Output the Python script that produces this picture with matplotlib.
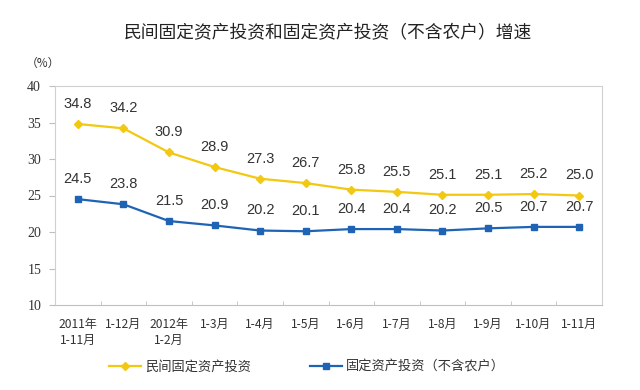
import numpy as np
import matplotlib
matplotlib.use('Agg')
import matplotlib.pyplot as plt

plt.rcParams['font.family'] = ['Noto Sans CJK SC', 'DejaVu Sans']

# data
periods = ['2011年\n1-11月', '1-12月', '2012年\n1-2月', '1-3月', '1-4月', '1-5月',
           '1-6月', '1-7月', '1-8月', '1-9月', '1-10月', '1-11月']
private_inv = [34.8, 34.2, 30.9, 28.9, 27.3, 26.7, 25.8, 25.5, 25.1, 25.1, 25.2, 25.0]
total_inv = [24.5, 23.8, 21.5, 20.9, 20.2, 20.1, 20.4, 20.4, 20.2, 20.5, 20.7, 20.7]
y_ticks = [10, 15, 20, 25, 30, 35, 40]

title = '民间固定资产投资和固定资产投资（不含农户）增速'
series_names = ['民间固定资产投资', '固定资产投资（不含农户）']
yellow = '#F2C811'
blue = '#1F64B4'

fig = plt.figure(figsize=(6.4, 3.9), dpi=100)
ax = fig.add_axes([55 / 640, 1 - 305 / 390, (602 - 55) / 640, (305 - 86) / 390])

x = np.arange(len(periods))
ax.plot(x, private_inv, color=yellow, lw=1.6, marker='D', ms=4.5,
        label=series_names[0])
ax.plot(x, total_inv, color=blue, lw=1.6, marker='s', ms=4.5,
        label=series_names[1])

# value labels above each point
for vals in [private_inv, total_inv]:
    for xi, v in zip(x, vals):
        ax.annotate(f'{v:.1f}', (xi, v), xytext=(0, 14.5), textcoords='offset points',
                    ha='center', va='center', fontsize=10.5, color='#333333',
                    family='Liberation Sans')

ax.set_xlim(-0.5, len(periods) - 0.5)
ax.set_ylim(10, 40)
ax.set_yticks(y_ticks)
ax.set_yticklabels([str(t) for t in y_ticks], family='Liberation Serif',
                   fontsize=10, color='#333333')
ax.set_xticks(x)
ax.set_xticklabels(periods, fontsize=8.7, color='#333333', linespacing=1.3)
ax.set_xticks(np.arange(len(periods) + 1) - 0.5, minor=True)

ax.tick_params(axis='y', length=4, color='#BFBFBF', pad=6)
ax.tick_params(axis='x', which='major', length=0, pad=9.5)
ax.tick_params(axis='x', which='minor', length=3, direction='in', color='#BFBFBF')

for sp in ax.spines.values():
    sp.set_color('#D0D0D0')
    sp.set_linewidth(0.8)
ax.spines['bottom'].set_color('#BFBFBF')

fig.text(328 / 640, 1 - 33 / 390, title, ha='center', va='center',
         fontsize=12.8, fontweight='medium', color='#222222')
fig.text(43 / 640, 1 - 63 / 390, '（%）', ha='center', va='center',
         fontsize=8.5, color='#333333')

fig.legend(loc='center', bbox_to_anchor=(307 / 640, 1 - 367 / 390), ncol=2,
           frameon=False, fontsize=9.5, handlelength=2.4, handletextpad=0.3,
           columnspacing=4.5, labelcolor='#333333')

fig.savefig('out.png', dpi=100)
